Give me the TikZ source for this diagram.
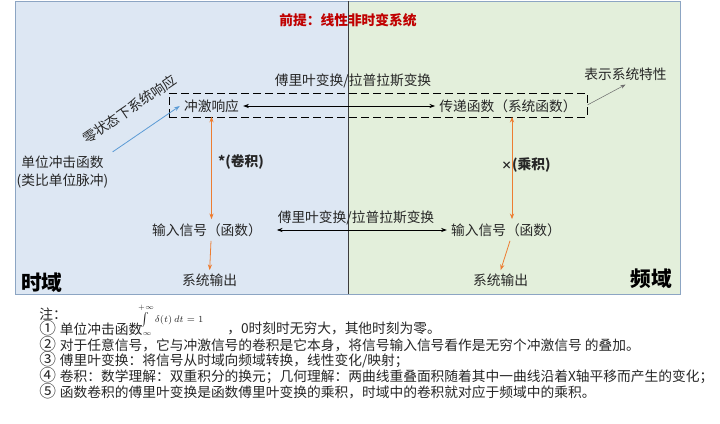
\documentclass[tikz,border=0pt]{standalone}
\usepackage{fontspec}
\setmainfont{Noto Sans CJK SC}
\usetikzlibrary{arrows.meta,positioning,calc}
\definecolor{TimeBlue}{RGB}{221,231,243}
\definecolor{FreqGreen}{RGB}{227,239,219}
\definecolor{PanelEdge}{RGB}{140,165,195}
\definecolor{Divider}{RGB}{60,60,60}
\definecolor{PremiseRed}{RGB}{192,0,0}
\definecolor{ConvOrange}{RGB}{237,125,49}
\definecolor{ImpBlue}{RGB}{91,155,213}
\definecolor{InkGray}{RGB}{38,38,38}
\definecolor{TipGray}{RGB}{110,110,110}
\newcommand{\notemark}[1]{\makebox[15.5pt][l]{\fontsize{12.5}{13}\selectfont#1}}
\tikzset{
  lbl/.style      ={inner sep=3pt, text=InkGray, align=center,
                    font=\fontsize{10.3}{13}\selectfont},
  lblbold/.style  ={lbl, font=\fontsize{10.3}{13}\selectfont\bfseries},
  premise/.style  ={inner sep=1pt, text=PremiseRed,
                    font=\fontsize{10.3}{13}\selectfont\bfseries},
  domainlbl/.style={inner sep=0pt, text=black,
                    font=\fontsize{15.5}{18}\selectfont\bfseries},
  note/.style     ={anchor=west, inner sep=0pt, text=InkGray,
                    font=\fontsize{10.3}{13}\selectfont},
  formula/.style  ={inner sep=0pt, text=InkGray, font=\scriptsize},
  panel/.style    ={draw=PanelEdge, line width=.6pt},
  sysbox/.style   ={rectangle, draw=black, line width=.6pt,
                    dash pattern=on 6pt off 3pt, inner sep=0pt},
  arr/.style      ={{Stealth[length=1.5mm,width=1.1mm]}-{Stealth[length=1.5mm,width=1.1mm]},
                    draw=black, line width=.5pt},
  arrconv/.style  ={{Stealth[length=1.5mm,width=1.1mm]}-{Stealth[length=1.5mm,width=1.1mm]},
                    draw=ConvOrange, line width=.6pt},
  arrout/.style   ={-{Stealth[length=1.5mm,width=1.1mm]}, draw=ConvOrange, line width=.6pt},
  arrimp/.style   ={-{Stealth[length=1.5mm,width=1.1mm]}, draw=ImpBlue, line width=.6pt},
  arrgray/.style  ={-{Stealth[length=1.3mm,width=1mm]}, draw=TipGray, line width=.4pt},
}
\begin{document}
\begin{tikzpicture}[x=0.75pt,y=-0.75pt]
  \useasboundingbox (0,0) rectangle (720,424);
  % time domain / frequency domain panels
  \draw[panel,fill=TimeBlue] (15,1) rectangle (348,294);
  \draw[panel,fill=FreqGreen] (348,1) rectangle (680,294);
  \draw[Divider,line width=.6pt] (348,1) -- (348,294);
  \node[premise] (cond) at (348,20) {前提：线性非时变系统};

  \node[sysbox,minimum width=313.5pt,minimum height=18pt] (sys) at (378,105) {};
  \node[lbl] (imp) at (211.5,106) {冲激响应};
  \node[lbl] (tf) at (508,106) {传递函数（系统函数）};
  \node[lbl] (feat) at (625.5,74) {表示系统特性};
  \node[lbl] (ftop) at (353,81) {傅里叶变换/拉普拉斯变换};
  \node[lbl] (unit) at (62.5,172) {单位冲击函数\\(类比单位脉冲)};

  \node[lbl] (inL) at (207,230) {输入信号（函数）};
  \node[lbl] (inR) at (506,230) {输入信号（函数）};
  \node[lbl] (fbot) at (356,218) {傅里叶变换/拉普拉斯变换};
  \node[lbl,below=22pt of inL,xshift=2pt] (outL) {系统输出};
  \node[lbl,below=22pt of inR,xshift=-4pt] (outR) {系统输出};
  \node[lblbold] (conv) at (241,162) {*(卷积)};
  \node[lblbold] (prod) at (526,165) {{\fontsize{8}{9}\selectfont×}(乘积)};

  \node[domainlbl] (td) at (42,283) {时域};
  \node[domainlbl] (fd) at (651,279) {频域};

  \draw[arr] (imp) -- (tf);
  \draw[arr,shorten <=8pt] (inL) -- (inR);
  \draw[arrconv] (imp.south) -- (imp.south |- inL.north);
  \draw[arrconv] ([xshift=3pt]tf.south) -- ([xshift=3pt]tf.south |- inR.north);
  \draw[arrout] ([xshift=3pt]inL.south) -- (outL.north);
  \draw[arrout] ([xshift=3pt]inR.south) -- (outR.north);
  \draw[arrgray] (sys.east) -- (feat.south);
  \draw[arrimp] (unit.north east) -- node[lbl,midway,sloped,above=11pt,xshift=-2pt] {零状态下系统响应} (imp.west);

  % notes
  \node[note] (n0) at (39,314) {注：};
  \node[note] (n1) at (39,328) {\notemark{①}单位冲击函数};
  \node[formula] (dirac) at (170,321) {$\int\limits_{-\infty}^{+\infty}\delta(t)\,dt=1$};
  \node[note] (n1b) at (227,328) {，0时刻时无穷大，其他时刻为零。};
  \node[note] (n2) at (39,344) {\notemark{②}对于任意信号，它与冲激信号的卷积是它本身，将信号输入信号看作是无穷个冲激信号 的叠加。};
  \node[note] (n3) at (39,360) {\notemark{③}傅里叶变换：将信号从时域向频域转换，线性变化/映射；};
  \node[note] (n4) at (39,375.5) {\notemark{④}卷积：数学理解：双重积分的换元；几何理解：两曲线重叠面积随着其中一曲线沿着X轴平移而产生的变化；};
  \node[note] (n5) at (39,391) {\notemark{⑤}函数卷积的傅里叶变换是函数傅里叶变换的乘积，时域中的卷积就对应于频域中的乘积。};
\end{tikzpicture}
\end{document}
